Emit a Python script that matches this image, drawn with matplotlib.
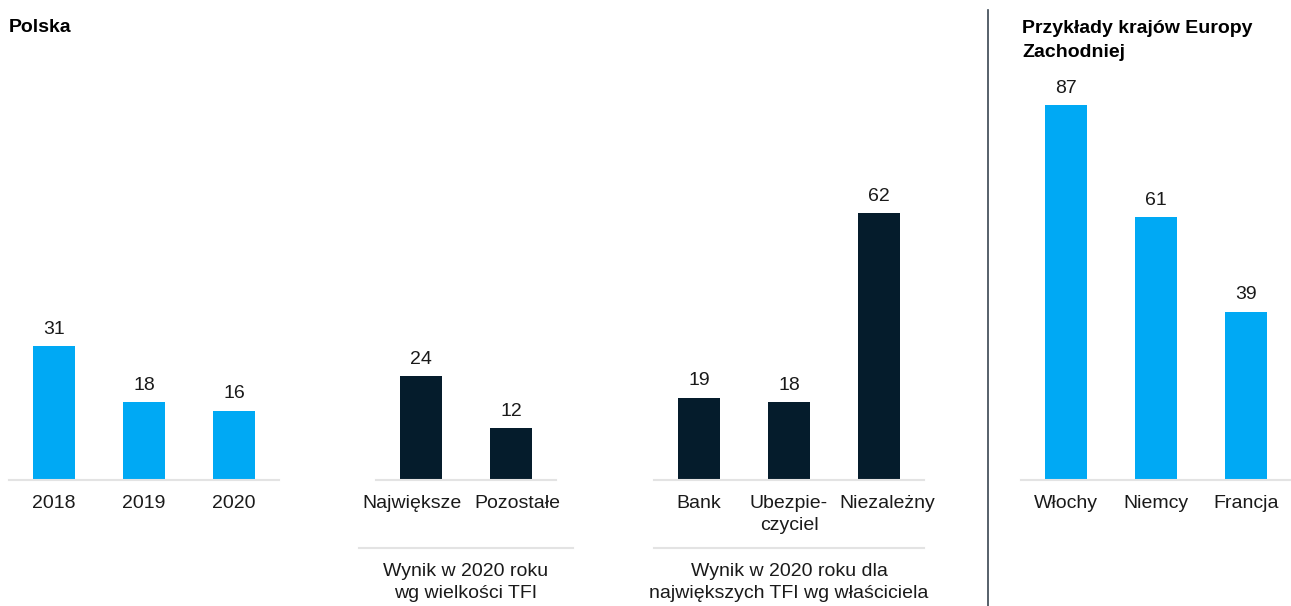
import matplotlib
matplotlib.use("Agg")
import matplotlib.pyplot as plt
from matplotlib.lines import Line2D
from matplotlib.transforms import ScaledTranslation

plt.rcParams['font.family'] = ['Liberation Sans', 'DejaVu Sans']

# dane
years = ["2018", "2019", "2020"]
years_values = [31, 18, 16]

size_labels = ["Największe", "Pozostałe"]
size_values = [24, 12]

owner_labels = ["Bank", "Ubezpie-\nczyciel", "Niezależny"]
owner_values = [19, 18, 62]

countries = ["Włochy", "Niemcy", "Francja"]
countries_values = [87, 61, 39]

BLUE = "#00A9F4"
NAVY = "#051C2C"
TEXT = "#1a1a1a"
GRID = "#e3e3e3"

W, H = 1291, 606
BASE = 479.5      # linia bazowa w pikselach od góry
PX_PER_UNIT = 4.3  # wspólna skala wszystkich grup
FS = 14


def fx(px):
    return px / W


def fy(py):
    return 1 - py / H


def bar_group(fig, left_px, right_px, labels, values, color, shifts=None):
    """Rysuje jedną grupę słupków na osobnej osi, ze wspólną skalą Y."""
    ax = fig.add_axes([fx(left_px), fy(BASE), fx(right_px - left_px), BASE / H])
    x = list(range(len(values)))
    bars = ax.bar(x, values, width=0.47, color=color)
    ax.set_xlim(-0.5, len(values) - 0.5)
    ax.set_ylim(0, BASE / PX_PER_UNIT)
    for b, v in zip(bars, values):
        ax.annotate(str(v), (b.get_x() + b.get_width() / 2, v),
                    xytext=(0, 6), textcoords="offset points",
                    ha="center", va="bottom", fontsize=FS, color=TEXT)
    ax.set_xticks(x)
    ax.set_xticklabels(labels, fontsize=FS, color=TEXT, va="top", linespacing=1.4)
    ax.tick_params(axis="x", length=0, pad=11)
    # przesunięcie podpisów, żeby się nie nachodziły
    if shifts:
        for lab, dx in zip(ax.get_xticklabels(), shifts):
            lab.set_transform(lab.get_transform() +
                              ScaledTranslation(dx / 100, 0, fig.dpi_scale_trans))
    ax.set_yticks([])
    for s in ["top", "left", "right"]:
        ax.spines[s].set_visible(False)
    ax.spines["bottom"].set_color(GRID)
    ax.spines["bottom"].set_linewidth(1.5)
    ax.patch.set_alpha(0)
    return ax


fig = plt.figure(figsize=(W / 100, H / 100), dpi=100)

bar_group(fig, 9, 279, years, years_values, BLUE)
bar_group(fig, 376, 556, size_labels, size_values, NAVY, shifts=[-9, 6])
bar_group(fig, 654, 924, owner_labels, owner_values, NAVY, shifts=[0, 0, 8])
bar_group(fig, 1021, 1291, countries, countries_values, BLUE)

# linie nad podpisami grup
for x0, x1 in [(359, 573), (654, 924)]:
    fig.add_artist(Line2D([fx(x0), fx(x1)], [fy(548), fy(548)],
                          color=GRID, linewidth=1.5))

fig.text(fx(466), fy(563), "Wynik w 2020 roku\nwg wielkości TFI",
         ha="center", va="top", fontsize=FS, color=TEXT, linespacing=1.4)
fig.text(fx(789), fy(563), "Wynik w 2020 roku dla\nnajwiększych TFI wg właściciela",
         ha="center", va="top", fontsize=FS, color=TEXT, linespacing=1.4)

# separator
fig.add_artist(Line2D([fx(988), fx(988)], [fy(10), fy(606)],
                      color="#3a4652", linewidth=1.2))

# tytuły
fig.text(fx(9), fy(32), "Polska", ha="left", va="baseline",
         fontsize=FS, fontweight="bold", color="black")
fig.text(fx(1022), fy(33), "Przykłady krajów Europy", ha="left", va="baseline",
         fontsize=FS, fontweight="bold", color="black")
fig.text(fx(1022), fy(57), "Zachodniej", ha="left", va="baseline",
         fontsize=FS, fontweight="bold", color="black")

fig.savefig("out.png", dpi=100, facecolor="white")
